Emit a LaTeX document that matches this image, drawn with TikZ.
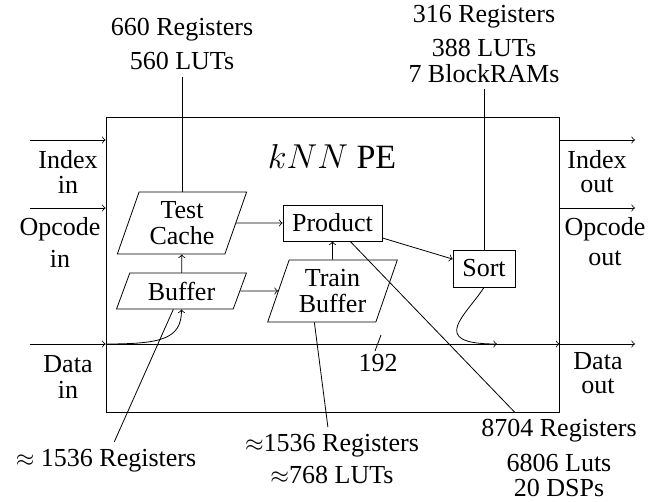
\documentclass[tikz,border=0pt]{standalone}
\usepackage{fontspec}
\setmainfont{Liberation Serif}
\usetikzlibrary{shapes.geometric}
\newcommand\lblfont{\fontsize{13pt}{1pt}\selectfont\lineskip=3.6pt\relax\lineskiplimit=0pt\relax}
\begin{document}
\begin{tikzpicture}[x=0.5pt,y=-0.5pt,
  txt/.style={font=\lblfont, align=center},
  every node/.style={txt},
  blk/.style={draw, rectangle, inner sep=2pt},
  para/.style={draw, trapezium, trapezium left angle=70, trapezium right angle=110, trapezium stretches=true, inner sep=2pt},
  conn/.style={->},
]
\useasboundingbox (0,0) rectangle (659,502);
\node[draw, minimum width=226.5pt, minimum height=147.5pt, inner sep=0pt] (pe) at (332.5,264.5) {};
\node[font=\fontsize{17pt}{20pt}\selectfont] (title) at (332,157) {$kNN$ PE};
\node[para, minimum width=65pt, minimum height=31pt] (tc) at (182,223) {Test\\Cache};
\node[para, minimum width=65pt, minimum height=18pt] (buf) at (181.5,291) {Buffer};
\node[para, minimum width=65pt, minimum height=31pt] (tb) at (332.5,291) {Train\\Buffer};
\node[blk, minimum width=49.5pt, minimum height=18pt] (prod) at (332.5,223) {Product};
\node[blk, minimum width=31pt, minimum height=18.5pt] (sort) at (484,268.5) {Sort};
% resource labels
\node[anchor=south] (rtc) at (182,77) {660 Registers\\[2pt]560 LUTs};
\node[anchor=south] (rsort) at (484,89.5) {316 Registers\\[2pt]388 LUTs\\7 BlockRAMs};
\node[anchor=north] (rbuf) at (106,442) {$\approx$ 1536 Registers};
\node[anchor=north] (rtb) at (332,427) {$\approx$1536 Registers\\[1pt]$\approx$768 LUTs};
\node[anchor=north] (rprod) at (559,412.5) {8704 Registers\\[2.5pt]6806 Luts\\20 DSPs};
% port labels
\node (lidx) at (68,172.1) {Index\\[0.5pt]in};
\node (lop) at (60,242.5) {Opcode\\[1.5pt]in};
\node (ldat) at (68,377) {Data\\[0.5pt]in};
\node (ridx) at (597,171.2) {Index\\[1pt]out};
\node (rop) at (605,241.5) {Opcode\\[1.5pt]out};
\node (rdat) at (598,373.2) {Data\\[1pt]out};
% port coordinates
\coordinate (iin) at (30,140);
\coordinate (oin) at (30,208);
\coordinate (din) at (30,344);
\coordinate (iout) at (635,140);
\coordinate (oout) at (635,208);
\coordinate (dout) at (635,344);
\coordinate (se) at (497,344);
\coordinate (bus) at (378,344);
% ports
\draw[conn] (iin) -- (iin -| pe.west);
\draw[conn] (oin) -- (oin -| pe.west);
\draw[conn] (din) -- (din -| pe.west);
\draw[conn] (din -| pe.west) -- (din -| pe.east);
\draw[conn] (iout -| pe.east) -- (iout);
\draw[conn] (oout -| pe.east) -- (oout);
\draw[conn] (dout -| pe.east) -- (dout);
% internal
\draw[conn] (din -| pe.west) .. controls +(55,0) and +(0,30) .. (buf.south);
\draw[conn] (sort.south) .. controls +(-18,28) and +(-70,0) .. (se);
\draw[conn] (buf) -- (tb);
\draw[conn] (buf) -- (tc);
\draw[conn] (tc) -- (prod);
\draw[conn] (tb) -- (prod);
\draw[conn] (prod) -- (sort);
% resource leaders
\draw (tc) -- (rtc);
\draw (sort) -- (rsort);
\draw (buf) -- (rbuf);
\draw (tb.240) -- (rtb);
\draw (prod) -- (rprod);
% bus width
\draw ([xshift=1.5pt,yshift=4.5pt]bus) -- ([xshift=-1.5pt,yshift=-3.5pt]bus);
\node (n192) at (378,363) {192};
\end{tikzpicture}
\end{document}
